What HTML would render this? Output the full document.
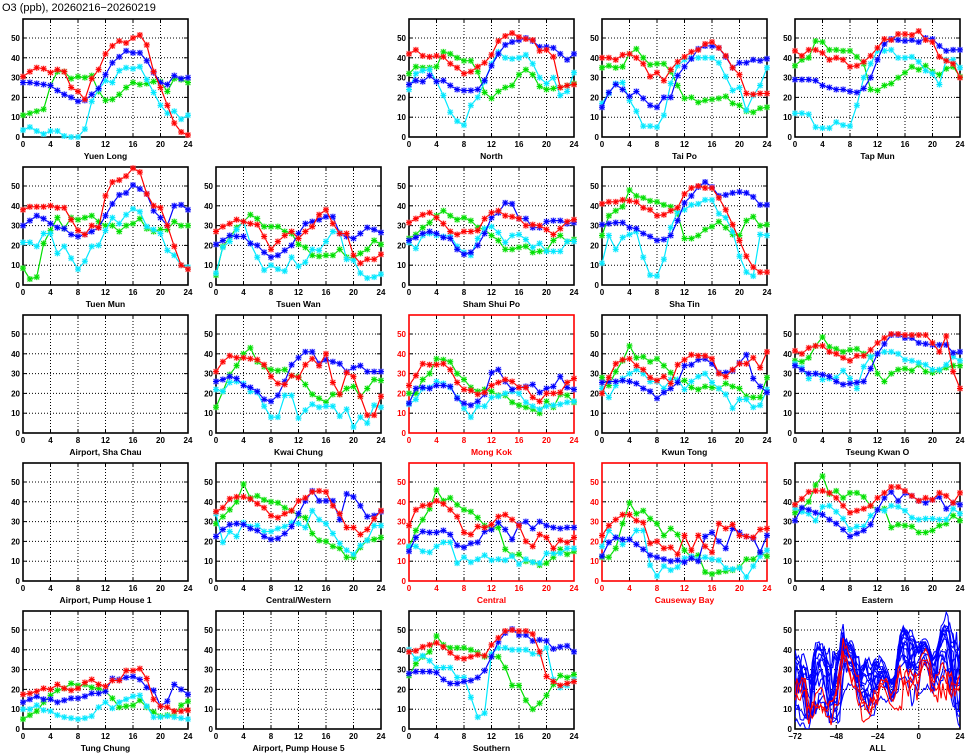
<!DOCTYPE html>
<html><head><meta charset="utf-8">
<style>
body{margin:0;background:#fff;width:965px;height:755px;overflow:hidden;font-family:"Liberation Sans",sans-serif;}
svg{display:block}
</style></head>
<body>
<svg id="chart" width="965" height="755" xmlns="http://www.w3.org/2000/svg">
<text x="2" y="11" font-size="11" font-family="Liberation Sans, sans-serif">O3 (ppb), 20260216−20260219</text>
</svg>
<script>
// ---- data: hourly values 0..24, series per day (cyan=day1, green=day2, blue=day3, red=day4)
const hours = [0,1,2,3,4,5,6,7,8,9,10,11,12,13,14,15,16,17,18,19,20,21,22,23,24];
const xTicks = [0,4,8,12,16,20,24];
const yTicks = [0,10,20,30,40,50];
const allXTicks = [-72,-48,-24,0,24];

const yuenLongRed=[30.5,33,35,34.5,32.5,34,33,25,23,19,29.5,34,42,46,48.5,47.5,50,51.5,46.5,33,25,16,7,2.5,1];
const yuenLongBlue=[27.5,27.5,27,26.5,26,23.5,21.5,20,18,18.5,21.5,24.5,31.5,37.5,40.5,43.5,42.5,42.5,38.5,32.5,27.5,26.5,31,29.5,30];
const yuenLongGreen=[11,12,13,14,26,33,33,29.5,30.5,30,31,23,18.5,19,21.5,25,27.5,26.5,27,28,28,23,29.5,29,27.5];
const yuenLongCyan=[3.5,5,3,1.5,3,3,0.5,0,0,4,18,24,28.5,27.5,33.5,35,34.5,35.5,29,22.5,16,12,13,9,11];

const northRed=[42,44,41,40.5,41,40.5,37,35,32,33,35.5,37.5,41.5,48.5,51,52.5,50.5,49.5,49,43.5,44,40.5,25,26,26.5];
const northBlue=[26.5,28.5,28,31,28,28.5,26,24,23.5,23.5,24,28.5,36,42,46.5,48,49,50,48.5,45.5,45.5,45,42,39,42];
const northGreen=[32,35.5,35,35,35.5,43,42,40,38.5,38.5,33,22.5,19.5,23,25,26,31.5,34,31.5,25.5,24,24.5,25,26,27];
const northCyan=[24,32,33.5,34,28,21,12.5,8,6,16,20,28,37,43,40,39.5,40,41.5,37,30,27,30,21,23,32.5];

const taiPoRed=[40,40,39,41.5,42,40,37,30.5,32.5,28.5,34,38,40.5,43,44,47,48,45,41,35,31.5,22,21.5,22,22];
const taiPoBlue=[15,22.5,26.5,24,20.5,23,19.5,16,15,20,20,31,35.5,39.5,44.5,46,46,45,40.5,35,37.5,37.5,39,38.5,39.5];
const taiPoGreen=[35,36,35,35.5,42,44.5,40,36.5,37,37,33,26,19.5,20,17.5,18.5,19,19.5,20.5,17,16,13,12.5,14.5,15];
const taiPoCyan=[17,22,27,27.5,18.5,13,5.5,5.5,5,11,27,36,39,40,40,40,40,37.5,30.5,23.5,25,13.5,21,26,35];

const tapMunRed=[43.5,41,44,44,42.5,39,40,39,35.5,36,38,41,45,49.5,49,52,52,51.5,53.5,49,48,40.5,38.5,37,30];
const tapMunBlue=[29,29,29,28.5,26,25,24,24,23,22.5,24.5,30,39,47,49.5,49,48.5,49,48,50,49.5,46,43.5,44,44];
const tapMunGreen=[36,39,40,48.5,48,44,44,43.5,43.5,40.5,37,24,23.5,26,27,30,32.5,35.5,34,36,33,31.5,34.5,35.5,30.5];
const tapMunCyan=[12,12,11.5,5,4.5,4.5,7.5,6,5.5,16,30,37,43.5,43.5,44,40,40,40.5,38,33.5,32,26.5,39,39,35];

const tuenMunRed=[38,39.5,39.5,39.5,40,39,39,33,27.5,25.5,30,29,45,52,53,55,59,57,46,40,39,30,19.5,10,8];
const tuenMunBlue=[30,32.5,35,33.5,31,29,28.5,25.5,24.5,25.5,27,29,35,41,45.5,46.5,50.5,48.5,46,37.5,34,30,40,40.5,38];
const tuenMunGreen=[8.5,3,4,21,27.5,34,28.5,34,33,34,35,32,30,30,27,30,31,33.5,28.5,27,28,28,32,30,30];
const tuenMunCyan=[21.5,21.5,19.5,26,26,16,19.5,13.5,8,12,19.5,20,27.5,34,31,35.5,38.5,37,29.5,28,26,17.5,15,10,9];

const tsuenWanRed=[27,29.5,31,33,32,31,30.5,24.5,18,22,25,27,23.5,27,29.5,35.5,38,31,26,26,15,11,13,13,15.5];
const tsuenWanBlue=[20.5,22.5,25,24.5,24.5,21,20,16.5,14,15,17.5,20,26,31,32,33,34.5,34.5,26,24.5,23.5,26,29,28,26.5];
const tsuenWanGreen=[5,19.5,24,29,32,35.5,33.5,29.5,29.5,29.5,27,26,20.5,19,15,14.5,15,15,18,14,13.5,16,18,22.5,20.5];
const tsuenWanCyan=[6,19,22,28,32,21,14,7.5,10,8,7,14,9.5,11.5,18,17.5,22,27,26.5,13,12.5,6,3.5,4,5.5];

const shamShuiPoRed=[31.5,33.5,35.5,36.5,34,31,27,25.5,27,27,27.5,33.5,36.5,37.5,35,34.5,33.5,30,30.5,30,28,25.5,28.5,32,33];
const shamShuiPoBlue=[22.5,24,26,27,26,24,23.5,18,15.5,16.5,20,26,34,36.5,41.5,41,33.5,33.5,29,29,32,32.5,32.5,31,31.5];
const shamShuiPoGreen=[23.5,25.5,29,31.5,35,37.5,35,33,34,32.5,29,28,25,22.5,18,18,19,19.5,16.5,17,17.5,22.5,25,22,23];
const shamShuiPoCyan=[21.5,18.5,25,26,25,24.5,25,19.5,16.5,15,23.5,28.5,29.5,26.5,21.5,25,25.5,23,19,21,17,17,17,22,22];

const shaTinRed=[41,42,42,43,42.5,42,39,38,35,35.5,37.5,39,46,49,50,49,49,44,38,30.5,22.5,14.5,9,6.5,6.5];
const shaTinBlue=[30.5,31,31.5,31.5,29,28.5,26,24.5,22.5,23,25,32.5,41.5,45,49.5,52,49.5,45,45.5,46.5,47,46.5,44.5,40.5,40.5];
const shaTinGreen=[25,35,37.5,39.5,48,45,44,42.5,42,40.5,39.5,36,23.5,23.5,25,28,29.5,32,29,25.5,25,32.5,34.5,30,30.5];
const shaTinCyan=[11,25,18,24,25.5,27,14,5,4.5,13,29,37,38,40.5,41,43,43,36,34,27,14.5,6.5,4.5,25.5,25];

const kwaiChungRed=[31,36,39,38,38,37.5,37,34.5,28.5,25,24.5,29,28,34.5,37.5,34,40,25.5,19.5,30.5,28.5,18.5,9,9,18.5];
const kwaiChungBlue=[26,27,28.5,27.5,24,23,21,17,16,19,26,34.5,38,41,41,35,37,36,35,31,33,34,31,31,31];
const kwaiChungGreen=[13,21,29.5,34,40,43,36,33.5,32,31.5,32,29,28.5,24.5,19.5,17.5,15.5,19.5,19.5,22.5,23.5,18.5,22.5,27,26.5];
const kwaiChungCyan=[22,21,25.5,26,25,21,20.5,13.5,8,8,19,19,7.5,11.5,14.5,13,13.5,13.5,8.5,12,3,8,5,14,13];

const mongKokRed=[24,29,35,34.5,34.5,35,32,25.5,22,21.5,19.5,20.5,24,25.5,27,26,23,23,18,16,20,20,20.5,25.5,27.5];
const mongKokBlue=[15,22.5,23,22.5,24,24,23.5,17.5,15,14,16,19.5,30.5,32,26,22,23,23.5,24.5,20.5,22.5,23.5,28.5,23,22];
const mongKokGreen=[20,20,27,30,37.5,37,36,30,27,23,21,22,21,19,19,15.5,14,13,12,10,16,13,19.5,19,15.5];
const mongKokCyan=[14.5,17,22.5,23,26,25,23,18,12.5,8,13.5,13.5,18,18.5,20,21,20,15.5,13.5,12,13.5,14,14.5,15.5,16];

const kwunTongRed=[20,28,35,37,37.5,34,32,28,26.5,28.5,25,34.5,37,39.5,39,39,37.5,30,28.5,32,35,35,38,33,41];
const kwunTongBlue=[25.5,26,26,26.5,26,25,22.5,21,17.5,20.5,22.5,25.5,34,34.5,37,37.5,35,30.5,30.5,31.5,35.5,39.5,27.5,23.5,20.5];
const kwunTongGreen=[28,24,31,36.5,44,38,38.5,36,37.5,34,30.5,25.5,26.5,23,22,23.5,23,22.5,25,23.5,22.5,18.5,18,18,28];
const kwunTongCyan=[22.5,18,24,27.5,30,32,30,26,26,22.5,27,27,22,26,28.5,30,25.5,22.5,19.5,12.5,17,17,13,14,22];

const tseungKwanORed=[41.5,40,43,44,44,41,40,38,36.5,39,39,42,45.5,48,50,50,49.5,49.5,49.5,49.5,45.5,41,49,31,22.5];
const tseungKwanOBlue=[34,32,30,30,29.5,28.5,26,24.5,25,25.5,26,32.5,40,45,49.5,49.5,48,48,45.5,45,44.5,44.5,44.5,40.5,41];
const tseungKwanOGreen=[36.5,36,38,44,48.5,43.5,42.5,41,42,42.5,40,38.5,30,26,30,32,32.5,31.5,34.5,31,30.5,31.5,33,34,34];
const tseungKwanOCyan=[35,33,27.5,30,27,27.5,28,31.5,27.5,22.5,33.5,38.5,40,41,41,40,37,36.5,35.5,34.5,32,32,34.5,38.5,36.5];

const centralWesternRed=[35,37,41.5,42.5,42.5,41.5,39,37,33,32,34,35.5,40.5,42,45,45.5,45,38,34,27,27,23.5,26,31.5,35.5];
const centralWesternBlue=[22.5,26,28.5,29,28.5,26.5,25.5,22.5,21,21.5,24,27.5,34,40.5,45.5,40.5,40.5,40.5,31,44,42.5,38,32.5,33,35];
const centralWesternGreen=[29,32.5,36,40,49,42,43,41,40,39.5,37,35.5,33,32,24,20.5,20,17.5,16.5,12,12,17,20.5,21,22];
const centralWesternCyan=[34,19.5,25,22.5,29.5,27.5,28,25,25,26.5,27.5,29.5,29,27,35.5,31,29,24,19,15.5,13.5,18,20.5,28,28];

const centralRed=[28,36,38,38.5,40.5,39,36,32.5,24.5,23.5,27.5,27,28.5,32.5,33.5,31,28,20,17.5,23.5,22,16.5,20.5,19.5,22];
const centralBlue=[15,22,25,24.5,24.5,25.5,23.5,18,17,19,19.5,25,26,29.5,26,21,28.5,30,26.5,30,28,27,26.5,27,27];
const centralGreen=[17,25.5,31,36.5,46,40.5,42,38.5,36,35,32,28,26.5,27,16,13,13.5,10,9.5,8,9,12,16,13.5,15];
const centralCyan=[17.5,17.5,15,14.5,17.5,19.5,19.5,9,12,9.5,11,13,10.5,11,10.5,12.5,8.5,11,9.5,9,14,14,14,16.5,16.5];

const causewayBayRed=[23,28,31,33.5,33.5,30.5,29.5,19,20,16.5,17,13.5,23,15.5,23,17.5,14.5,29,26.5,28.5,23,22.5,22,26,26.5];
const causewayBayBlue=[12.5,19.5,22,21,21,18.5,16,13,12,11,10,10.5,9.5,11.5,10,22.5,24.5,20,16.5,26.5,24.5,22.5,21.5,14.5,23];
const causewayBayGreen=[12,12,16.5,29,39.5,34,35.5,31.5,29,23,26.5,23.5,15.5,12,13,4.5,3.5,4.5,5,5.5,7,11,11,14,12.5];
const causewayBayCyan=[17.5,25.5,22,18.5,21,25.5,25.5,8,2.5,7.5,5.5,7,11.5,12.5,11,12,11,10.5,6.5,6,6.5,2,7.5,12.5,15.5];

const easternRed=[38.5,41.5,45,45.5,45.5,44.5,42,38,34.5,35.5,36.5,38,42,44.5,47.5,47.5,45.5,43,40.5,42,41,44.5,43,39.5,44.5];
const easternBlue=[30.5,37,36,34.5,33.5,31,29,26,22.5,24,25.5,28.5,36,42,45,40.5,44.5,43,40.5,39.5,41,42.5,36.5,39.5,38.5];
const easternGreen=[34.5,36.5,40,48.5,53,44,45.5,42,44.5,44.5,42.5,38,36,36.5,27,28.5,28,27.5,24.5,24.5,25.5,28,29,33,30.5];
const easternCyan=[37,35,34,30.5,37.5,38,35,31.5,26,27.5,27.5,33,36,35.5,38,37.5,35.5,32,31,31.5,31.5,31,31,36.5,34];

const tungChungRed=[17.5,18,19,20.5,20,22.5,20.5,19.5,20.5,23.5,25,22.5,21.5,24.5,24.5,29.5,29.5,30.5,25.5,15,11.5,11,9,9,9.5];
const tungChungBlue=[13.5,15,16.5,15,15,13.5,14.5,15.5,15.5,16.5,18,18,19,25.5,25,26,26.5,25,21,19.5,11.5,14,22.5,20,17.5];
const tungChungGreen=[5,7,9,13.5,17,19.5,20.5,23,22,22.5,21,20.5,19,15.5,11,11.5,12,14.5,11,8.5,6.5,7,7,12,14];
const tungChungCyan=[10,10,12,9.5,9,7,6,5.5,5,5.5,6.5,11,13.5,10.5,13.5,15,16.5,17,11.5,6,6,6.5,6,5.5,5];

const southernRed=[39,39.5,41.5,42.5,43.5,41.5,38.5,36,35.5,36.5,37.5,37,42.5,46,49.5,50,49.5,49.5,48,39,26.5,24,22,23,24];
const southernBlue=[28,29,29,29,28.5,25,23,23,24,24.5,26,29.5,36.5,44,48.5,50.5,47.5,47.5,44.5,45,44.5,40.5,41.5,42,39];
const southernGreen=[27,33,36.5,39,47,42.5,41,41,41,40,38.5,36.5,36.5,36.5,31,22,22,14.5,10,13,17,22.5,27,26,27.5];
const southernCyan=[40,35.5,37,34.5,31,31,31,26,26,16,6,8,38,41,41,40,40,40,38,38,41,25,21,22,25];

// panel layout: [name, col, row, roadside, red, blue, green, cyan]
const panels = [
 ["Yuen Long",0,0,false,yuenLongRed,yuenLongBlue,yuenLongGreen,yuenLongCyan],
 ["North",2,0,false,northRed,northBlue,northGreen,northCyan],
 ["Tai Po",3,0,false,taiPoRed,taiPoBlue,taiPoGreen,taiPoCyan],
 ["Tap Mun",4,0,false,tapMunRed,tapMunBlue,tapMunGreen,tapMunCyan],
 ["Tuen Mun",0,1,false,tuenMunRed,tuenMunBlue,tuenMunGreen,tuenMunCyan],
 ["Tsuen Wan",1,1,false,tsuenWanRed,tsuenWanBlue,tsuenWanGreen,tsuenWanCyan],
 ["Sham Shui Po",2,1,false,shamShuiPoRed,shamShuiPoBlue,shamShuiPoGreen,shamShuiPoCyan],
 ["Sha Tin",3,1,false,shaTinRed,shaTinBlue,shaTinGreen,shaTinCyan],
 ["Airport, Sha Chau",0,2,false,null,null,null,null],
 ["Kwai Chung",1,2,false,kwaiChungRed,kwaiChungBlue,kwaiChungGreen,kwaiChungCyan],
 ["Mong Kok",2,2,true,mongKokRed,mongKokBlue,mongKokGreen,mongKokCyan],
 ["Kwun Tong",3,2,false,kwunTongRed,kwunTongBlue,kwunTongGreen,kwunTongCyan],
 ["Tseung Kwan O",4,2,false,tseungKwanORed,tseungKwanOBlue,tseungKwanOGreen,tseungKwanOCyan],
 ["Airport, Pump House 1",0,3,false,null,null,null,null],
 ["Central/Western",1,3,false,centralWesternRed,centralWesternBlue,centralWesternGreen,centralWesternCyan],
 ["Central",2,3,true,centralRed,centralBlue,centralGreen,centralCyan],
 ["Causeway Bay",3,3,true,causewayBayRed,causewayBayBlue,causewayBayGreen,causewayBayCyan],
 ["Eastern",4,3,false,easternRed,easternBlue,easternGreen,easternCyan],
 ["Tung Chung",0,4,false,tungChungRed,tungChungBlue,tungChungGreen,tungChungCyan],
 ["Airport, Pump House 5",1,4,false,null,null,null,null],
 ["Southern",2,4,false,southernRed,southernBlue,southernGreen,southernCyan]
];

const svg = document.getElementById('chart');
const NS = 'http://www.w3.org/2000/svg';
const COLORS = {red:'#ff0000',blue:'#0000ff',green:'#00e000',cyan:'#00e8ff'};
const HALO = {red:'#ffa0a0',blue:'#9090ff',green:'#a0f0a0',cyan:'#b0f6ff'};
const PW = 165, PH = 118, YMAX = 59.6;
function mk(tag, attrs, parent){ const e=document.createElementNS(NS,tag); for(const k in attrs) e.setAttribute(k,attrs[k]); (parent||svg).appendChild(e); return e; }
function slug(s){ return s.toLowerCase().replace(/[^a-z0-9]+/g,'-').replace(/^-|-$/g,''); }

function drawFrame(g, L, T, xmin, xmax, xt, gridX, frameColor, nm){
  const sx = v => L + (v - xmin) / (xmax - xmin) * PW;
  const sy = v => T + PH - v / YMAX * PH;
  yTicks.forEach(v => {
    if (v>0) { const ln = mk('line',{x1:L,x2:L+PW,y1:sy(v),y2:sy(v),stroke:'#000','stroke-width':1,'stroke-dasharray':'1,2'},g);
      
       }
    mk('line',{x1:L,x2:L+4,y1:sy(v),y2:sy(v),stroke:'#000'},g);
    mk('line',{x1:L+PW-4,x2:L+PW,y1:sy(v),y2:sy(v),stroke:'#000'},g);
    const t = mk('text',{x:L-3,y:sy(v)+3,'text-anchor':'end','font-size':8,'font-weight':'bold',fill:frameColor},g);
    t.textContent = v;
    
    
  });
  gridX.forEach(v => {
    const ln = mk('line',{x1:sx(v),x2:sx(v),y1:T,y2:T+PH,stroke:'#000','stroke-width':1,'stroke-dasharray':'1,2'},g);
    
    
  });
  xt.forEach(v => {
    mk('line',{x1:sx(v),x2:sx(v),y1:T,y2:T+4,stroke:'#000'},g);
    mk('line',{x1:sx(v),x2:sx(v),y1:T+PH-4,y2:T+PH,stroke:'#000'},g);
    const t = mk('text',{x:sx(v),y:T+PH+10,'text-anchor':'middle','font-size':8,'font-weight':'bold',fill:frameColor},g);
    t.textContent = v<0 ? '−'+(-v) : v;
    
    
  });
  const fr = mk('rect',{x:L,y:T,width:PW,height:PH,fill:'none',stroke:frameColor,'stroke-width':1.6},g);
  
  
  const lab = mk('text',{x:L+PW/2,y:T+PH+22,'text-anchor':'middle','font-size':8.5,'font-weight':'bold',fill:frameColor},g);
  lab.textContent = nm;
  
  
  return {sx, sy};
}

function drawSeries(g, vals, sx, sy, col, name){
  const pts = vals.map((v,i)=> sx(hours[i])+','+sy(v)).join(' ');
  const pl = mk('polyline',{points:pts,fill:'none',stroke:COLORS[col],'stroke-width':1.2},g);
  
  
  vals.forEach((v,i)=>{
    const x=sx(hours[i]), y=sy(v);
    const m = mk('g',{},g);
    
    
    mk('rect',{x:x-3,y:y-3,width:6,height:6,fill:HALO[col],opacity:0.45},m);
    mk('path',{d:`M${x-3},${y}H${x+3}M${x},${y-3}V${y+3}M${x-2.3},${y-2.3}L${x+2.3},${y+2.3}M${x-2.3},${y+2.3}L${x+2.3},${y-2.3}`,stroke:COLORS[col],'stroke-width':1},m);
  });
}

panels.forEach(p => {
  const [nm,c,r,road,red,blue,green,cyan] = p;
  const L = 23 + c*193, T = 19 + r*148;
  const g = mk('g',{});
  
  
  const fc = road ? '#ff0000' : '#000';
  const {sx,sy} = drawFrame(g, L, T, 0, 24, xTicks, [4,8,12,16,20], fc, nm);
  if (red) {
    drawSeries(g, green, sx, sy, 'green', 'series-day2');
    drawSeries(g, cyan, sx, sy, 'cyan', 'series-day1');
    drawSeries(g, blue, sx, sy, 'blue', 'series-day3');
    drawSeries(g, red, sx, sy, 'red', 'series-day4');
  }
});

// ALL panel: concatenated 96h series (cyan -72..-48, green -48..-24, blue -24..0, red 0..24)
(function(){
  const L = 23 + 4*193, T = 19 + 4*148;
  const g = mk('g',{});
  
  
  const {sx,sy} = drawFrame(g, L, T, -72, 24, allXTicks, [-48,-24,0], '#000', 'ALL');
  const clip = mk('clipPath',{id:'allclip'},g);
  mk('rect',{x:L,y:T,width:PW,height:PH},clip);
  const lg = mk('g',{'clip-path':'url(#allclip)'},g);
  const order = panels.filter(p=>p[4]).sort((a,b)=>a[3]-b[3]);
  order.forEach(p => {
    const seq = [];
    [p[7],p[6],p[5],p[4]].forEach((arr,d) => arr.forEach((v,i)=>{ if(d<3 && i===24) return; seq.push([-72+d*24+hours[i], v]); }));
    const pl = mk('polyline',{points:seq.map(q=>sx(q[0])+','+sy(q[1])).join(' '),fill:'none',stroke:p[3]?'#ff0000':'#0000ff','stroke-width':1.1},lg);
    
    
  });
})();
</script>
</body></html>
